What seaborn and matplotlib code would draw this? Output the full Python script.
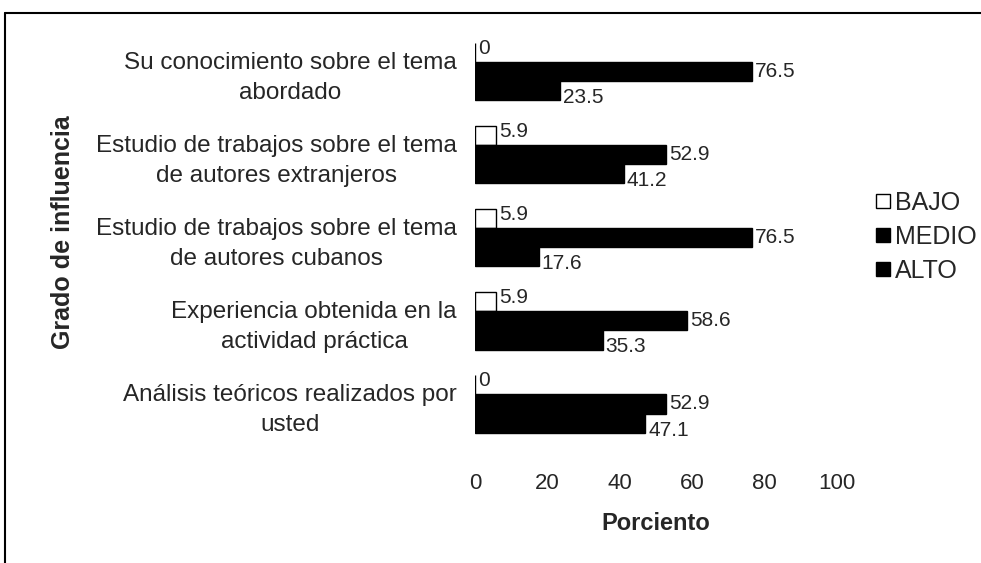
import matplotlib
matplotlib.use("Agg")
import matplotlib.pyplot as plt
from matplotlib.lines import Line2D
import seaborn as sns
import pandas as pd

categories = [
    "Su conocimiento sobre el tema\nabordado",
    "Estudio de trabajos sobre el tema\nde autores extranjeros",
    "Estudio de trabajos sobre el tema\nde autores cubanos",
    "Experiencia obtenida en la\nactividad práctica",
    "Análisis teóricos realizados por\nusted",
]
series = ["BAJO", "MEDIO", "ALTO"]
bajo = [0, 5.9, 5.9, 5.9, 0]
medio = [76.5, 52.9, 76.5, 58.6, 52.9]
alto = [23.5, 41.2, 17.6, 35.3, 47.1]
x_ticks = [0, 20, 40, 60, 80, 100]

rows = []
for s, vals in zip(series, [bajo, medio, alto]):
    for c, v in zip(categories, vals):
        rows.append({"Categoria": c, "Nivel": s, "Porciento": v})
df = pd.DataFrame(rows)

sns.set_theme(style="white")
plt.rcParams["font.family"] = ["Liberation Sans", "DejaVu Sans"]

fig = plt.figure(figsize=(9.81, 5.63), dpi=100)
ax = fig.add_axes([0.4842, 0.2087, 0.369, 0.738])

palette = {"BAJO": "white", "MEDIO": "black", "ALTO": "black"}
sns.barplot(data=df, y="Categoria", x="Porciento", hue="Nivel", order=categories,
            hue_order=series, palette=palette, orient="h", width=0.69,
            edgecolor="black", linewidth=1.0, ax=ax, legend=False)

ax.set_xlim(0, 100)
ax.set_ylim(4.5, -0.5)
ax.set_xticks(x_ticks)
ax.set_xticklabels([str(t) for t in x_ticks], fontsize=16)
ax.tick_params(axis="x", length=0, pad=20)
ax.tick_params(axis="y", length=0, pad=13, labelsize=17.5)
for lbl in ax.get_yticklabels():
    lbl.set_horizontalalignment("right")
    lbl.set_multialignment("center")
    lbl.set_linespacing(1.45)
for sp in ax.spines.values():
    sp.set_visible(False)
ax.set_xlabel("Porciento", fontsize=17, fontweight="bold")
ax.xaxis.set_label_coords(0.5, -0.16)
ax.set_ylabel("")
fig.text(0.064, 1 - 232 / 563, "Grado de influencia", rotation=90, fontsize=18,
         fontweight="bold", ha="center", va="center")

offsets = {"BAJO": 3, "MEDIO": 0, "ALTO": -5}
for cont, s in zip(ax.containers, series):
    for patch, v in zip(cont.patches, df[df["Nivel"] == s]["Porciento"]):
        y = patch.get_y() + patch.get_height() / 2
        xr = patch.get_x() + patch.get_width()
        ax.annotate(f"{v:g}", (xr, y), xytext=(2, offsets[s]),
                    textcoords="offset points", ha="left", va="center", fontsize=15)

handles = [plt.Rectangle((0, 0), 1, 1, facecolor=palette[s], edgecolor="black", linewidth=1.0)
           for s in series]
fig.legend(handles, series, loc="center left", bbox_to_anchor=(0.893, 0.579),
           frameon=False, fontsize=18, handlelength=0.55, handleheight=0.5,
           handletextpad=0.2, labelspacing=0.4, borderpad=0, borderaxespad=0)

fig.add_artist(Line2D([0.005, 1.0], [1 - 13 / 563, 1 - 13 / 563], color="black", lw=1.5,
                      transform=fig.transFigure))
fig.add_artist(Line2D([0.005, 0.005], [0.0, 1 - 13 / 563], color="black", lw=1.5,
                      transform=fig.transFigure))

fig.savefig("out.png", dpi=100, facecolor="white")
